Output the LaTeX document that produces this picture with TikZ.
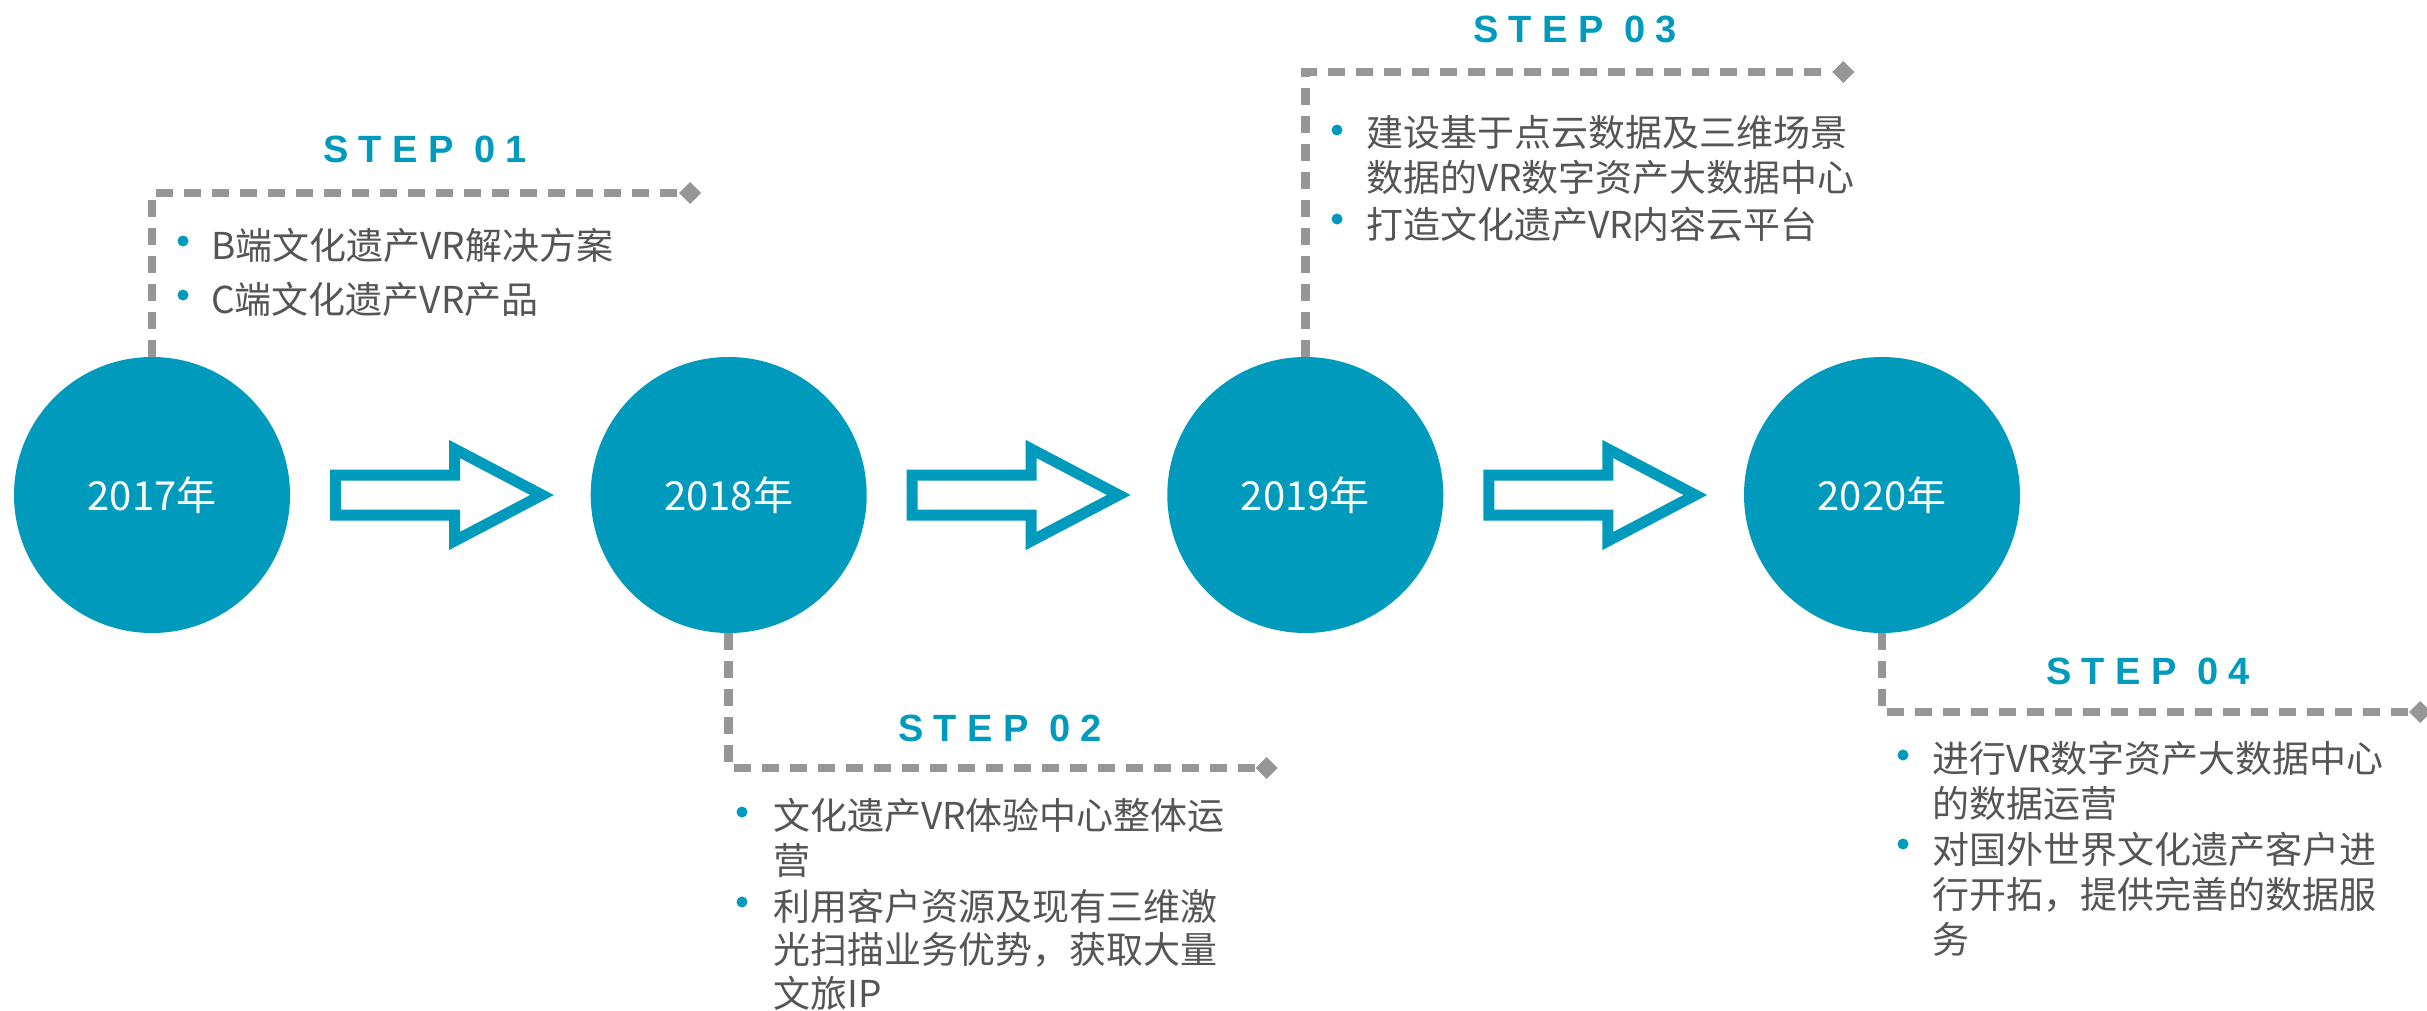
\documentclass[tikz,border=0pt]{standalone}
\usepackage{fontspec}
\setmainfont{Noto Sans CJK SC}
\newfontfamily\stepfont[LetterSpace=27]{Liberation Sans}
\usepackage{xcolor}
\definecolor{yearTeal}{RGB}{0,154,189}
\definecolor{dashGray}{RGB}{150,150,150}
\definecolor{textGray}{RGB}{85,85,85}
\usetikzlibrary{calc, shapes.geometric}

\providecommand{\Flow}[1]{%
  % hollow block arrow to the right of a year circle
  \draw[yearTeal, line width=11pt, line join=miter, fill=white, shift={(#1.center)}]
    (183.5,-20) -- (302.5,-20) -- (302.5,-46) -- (390,0) -- (302.5,46) -- (302.5,20) -- (183.5,20) -- cycle;
}

\tikzset{
  yearNode/.style={circle, fill=yearTeal, minimum size=276pt, inner sep=0pt, outer sep=0pt,
    text=white, font=\fontsize{40}{40}\selectfont},
  tipMark/.style={diamond, fill=dashGray, minimum width=22pt, minimum height=22pt, inner sep=0pt, outer sep=0pt},
  dashLine/.style={dashGray, line width=8.5pt, dash pattern=on 17pt off 11pt},
  stepLabel/.style={text=yearTeal, inner sep=0pt, font=\stepfont\bfseries\fontsize{38}{38}\selectfont},
  bulletText/.style={anchor=base west, align=left, inner sep=0pt, text=textGray,
    font=\fontsize{37}{45}\selectfont},
  bulletDot/.style={circle, fill=yearTeal, minimum size=11pt, inner sep=0pt},
}

\begin{document}
\begin{tikzpicture}[x=1pt, y=-1pt]
  \useasboundingbox (0,0) rectangle (2427,1011);

  \node[yearNode] (Y1) at (152,495) {2017年};
  \node[yearNode] (Y2) at (728.7,495) {2018年};
  \node[yearNode] (Y3) at (1305.3,495) {2019年};
  \node[yearNode] (Y4) at (1882,495) {2020年};

  \Flow{Y1}
  \Flow{Y2}
  \Flow{Y3}

  % branch ends
  \node[tipMark] (T1) at ($(Y1.center)+(538,-302)$) {};
  \node[tipMark] (T2) at ($(Y2.center)+(538,273)$) {};
  \node[tipMark] (T3) at ($(Y3.center)+(538,-423)$) {};
  \node[tipMark] (T4) at ($(Y4.center)+(538,217)$) {};

  \draw[dashLine] (Y1.north) |- (T1.west);
  \draw[dashLine] (Y2.south) |- (T2.west);
  \draw[dashLine] (Y3.north) |- (T3.west);
  \draw[dashLine] (Y4.south) |- (T4.west);

  \node[stepLabel] (S1) at (425,149) {STEP 01};
  \node[stepLabel] (S2) at (1000,728) {STEP 02};
  \node[stepLabel] (S3) at (1575,29) {STEP 03};
  \node[stepLabel] (S4) at (2148,671) {STEP 04};

  % step 01 (base = last line)
  \node[bulletDot] (D11) at (183,241) {};
  \node[bulletDot] (D12) at (183,295) {};
  \node[bulletText] (A11) at (211,259) {B端文化遗产VR解决方案};
  \node[bulletText] (A12) at (211,313) {C端文化遗产VR产品};

  % step 02
  \node[bulletDot] (D21) at (742,812) {};
  \node[bulletDot] (D22) at (742,902) {};
  \node[bulletText] (A21) at (773,874) {文化遗产VR体验中心整体运\\营};
  \node[bulletText, font=\fontsize{37}{43.5}\selectfont] (A22) at (773,1007) {利用客户资源及现有三维激\\光扫描业务优势，获取大量\\文旅IP};

  % step 03
  \node[bulletDot] (D31) at (1337,130) {};
  \node[bulletDot] (D32) at (1337,219) {};
  \node[bulletText] (A31) at (1366,192) {建设基于点云数据及三维场景\\数据的VR数字资产大数据中心};
  \node[bulletText] (A32) at (1366,238) {打造文化遗产VR内容云平台};

  % step 04
  \node[bulletDot] (D41) at (1903,755) {};
  \node[bulletDot] (D42) at (1903,844) {};
  \node[bulletText] (A41) at (1932,817) {进行VR数字资产大数据中心\\的数据运营};
  \node[bulletText] (A42) at (1932,953) {对国外世界文化遗产客户进\\行开拓，提供完善的数据服\\务};
\end{tikzpicture}
\end{document}
